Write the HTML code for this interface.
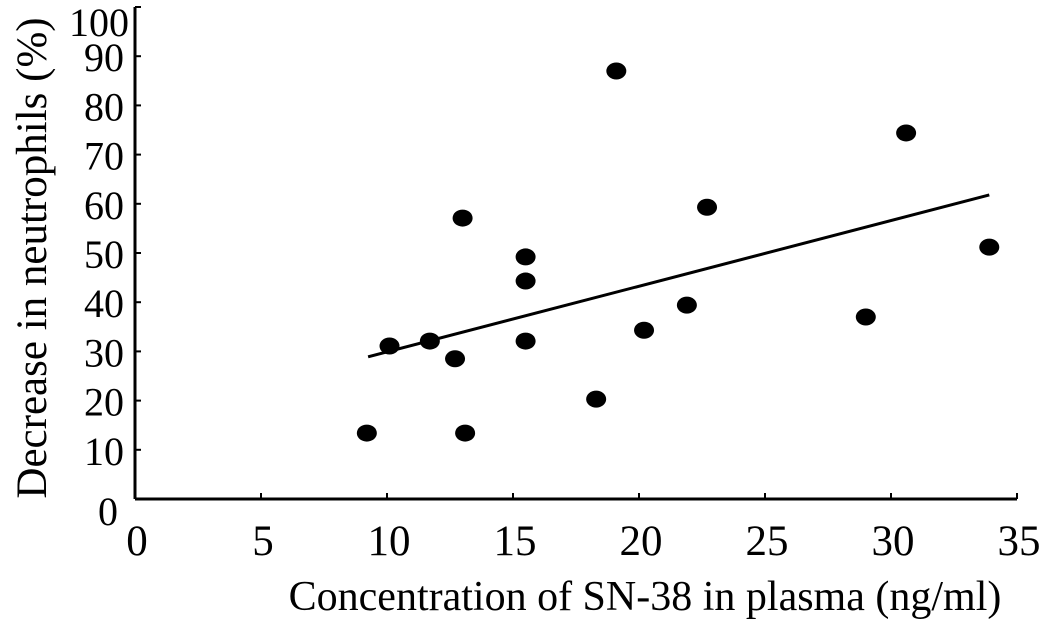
<!DOCTYPE html>
<html><head><meta charset="utf-8"><style>
body{margin:0;background:#fff}
svg{display:block}
text{font-family:"Liberation Serif",serif;fill:#000}
</style></head><body>
<svg id="c" width="1045" height="622">
<g id="axes"></g>
<g id="marks"></g>
<text x="645" y="610" font-size="42" text-anchor="middle">Concentration of SN-38 in plasma (ng/ml)</text>
<text transform="translate(46,258) rotate(-90)" font-size="43" text-anchor="middle">Decrease in neutrophils (%)</text>
</svg>
<script>
const xVals=[9.2,10.1,11.7,12.7,13.0,13.1,15.5,15.5,15.5,18.3,19.1,20.2,21.9,22.7,29.0,30.6,33.9];
const yVals=[13.4,31.1,32.1,28.5,57.1,13.4,49.2,44.3,32.1,20.3,87.0,34.3,39.4,59.3,37.0,74.4,51.2];
const xTicks=[0,5,10,15,20,25,30,35];
const yTicks=[0,10,20,30,40,50,60,70,80,90,100];
const trendX=[9.25,33.9];
const trendY=[28.9,61.8];
const NS="http://www.w3.org/2000/svg";
const X0=135,XS=25.2,Y0=499,YS=4.92;
const sx=v=>X0+v*XS, sy=v=>Y0-v*YS;
function mk(t,a,p){const e=document.createElementNS(NS,t);for(const k in a)e.setAttribute(k,a[k]);p.appendChild(e);return e;}
const ax=document.getElementById('axes'),mg=document.getElementById('marks');
let l=mk('line',{x1:sx(0),y1:sy(0),x2:sx(35),y2:sy(0),stroke:'#000','stroke-width':3},ax);


l=mk('line',{x1:sx(0),y1:sy(0),x2:sx(0),y2:sy(100),stroke:'#000','stroke-width':3},ax);


xTicks.forEach(v=>{
 const t=mk('line',{x1:sx(v),y1:sy(0),x2:sx(v),y2:sy(0)-6,stroke:'#000','stroke-width':2},ax);
 
 
 const tx=mk('text',{x:sx(v)+2,y:555,'font-size':43,'text-anchor':'middle'},ax);tx.textContent=v;
 
 
});
yTicks.forEach(v=>{
 const t=mk('line',{x1:sx(0),y1:sy(v),x2:sx(0)+6,y2:sy(v),stroke:'#000','stroke-width':2},ax);
 
 
 let yy=sy(v)+15; if(v===0) yy=sy(0)+26; if(v===100) yy=36;
 const tx=mk('text',{x:v===0?118:(v===100?129:124),y:yy,'font-size':40,'text-anchor':'end'},ax);tx.textContent=v;
 
 
});
const tl=mk('line',{x1:sx(trendX[0]),y1:sy(trendY[0]),x2:sx(trendX[1]),y2:sy(trendY[1]),stroke:'#000','stroke-width':3},mg);


xVals.forEach((v,i)=>{
 const c=mk('ellipse',{cx:sx(v),cy:sy(yVals[i]),rx:10,ry:8.5,fill:'#000'},mg);
 
 
});
</script>
</body></html>
